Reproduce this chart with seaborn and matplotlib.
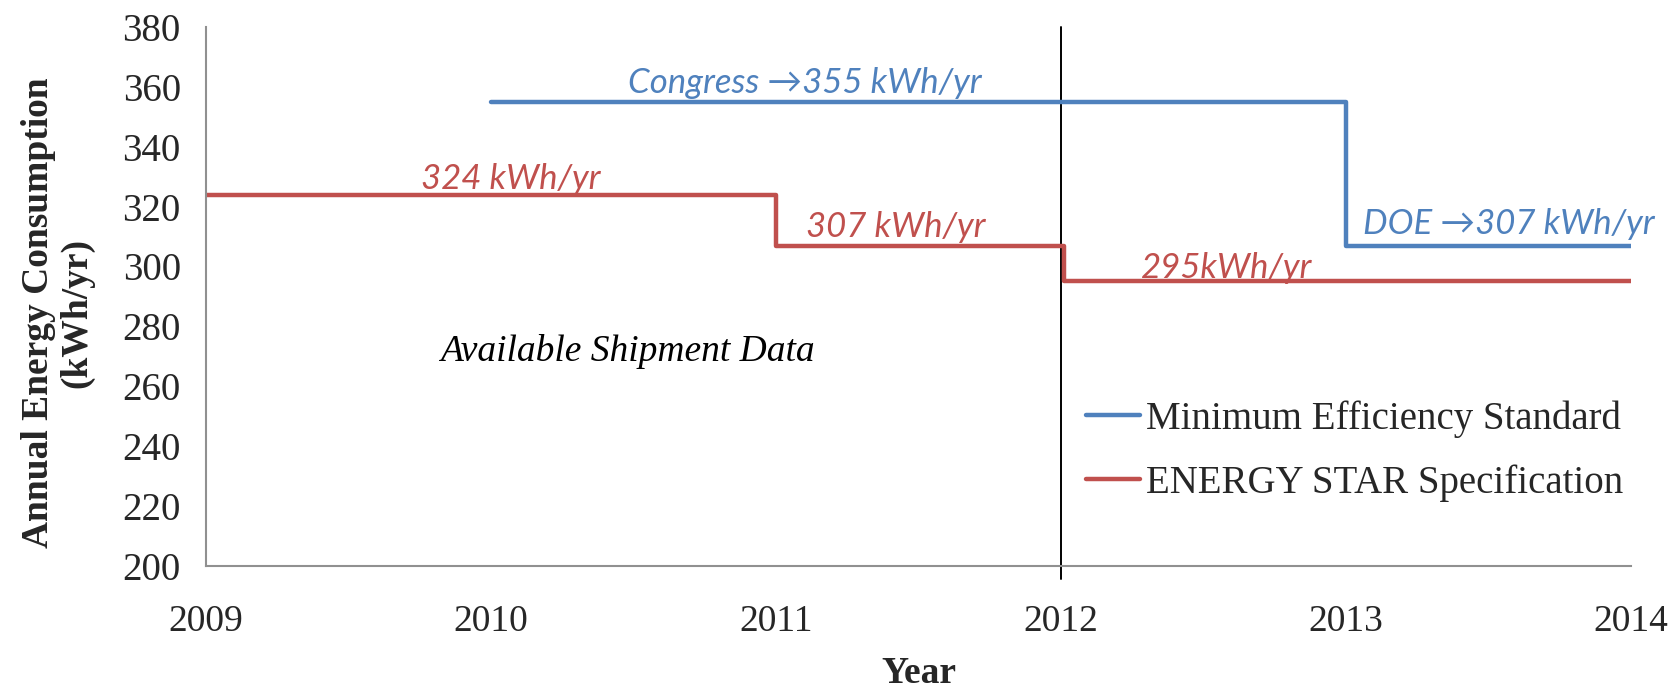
import matplotlib
matplotlib.use('Agg')
import matplotlib.pyplot as plt
import seaborn as sns
import pandas as pd

sns.set_style('white')

# step series (value holds from each x until the next one)
min_std_years = [2010, 2013, 2014]
min_std_kwh = [355, 307, 307]
estar_years = [2009, 2011, 2012.01, 2014]
estar_kwh = [324, 307, 295, 295]

series_names = ['Minimum Efficiency Standard', 'ENERGY STAR Specification']
series_colors = ['#4F81BD', '#C0504D']

df = pd.concat([
    pd.DataFrame({'year': min_std_years, 'kwh': min_std_kwh, 'series': series_names[0]}),
    pd.DataFrame({'year': estar_years, 'kwh': estar_kwh, 'series': series_names[1]}),
])

serif = ['Liberation Serif', 'DejaVu Serif']
sans_it = ['Lato', 'DejaVu Sans']

fig, ax = plt.subplots(figsize=(16.73, 6.91), dpi=100)
fig.subplots_adjust(left=0.123, right=0.975, top=0.961, bottom=0.181)

sns.lineplot(data=df, x='year', y='kwh', hue='series', hue_order=series_names,
             palette=series_colors, estimator=None, sort=False,
             drawstyle='steps-post', linewidth=3.2, ax=ax)

# divider for available shipment data
ax.axvline(2012, ymin=-0.025, ymax=1, color='black', linewidth=1.4, clip_on=False, zorder=1)

# annotations (baseline anchored)
ann = dict(fontsize=25, style='italic', family=sans_it, ha='center', va='baseline')
ax.text(2011.10, 357.8, 'Congress \u2192355 kWh/yr', color=series_colors[0], **ann)
ax.text(2013.57, 311.0, 'DOE \u2192307 kWh/yr', color=series_colors[0], **ann)
ax.text(2010.07, 325.8, '324 kWh/yr', color=series_colors[1], **ann)
ax.text(2011.42, 310.0, '307 kWh/yr', color=series_colors[1], **ann)
ax.text(2012.58, 296.2, '295kWh/yr', color=series_colors[1], **ann)
ax.text(2010.48, 271.5, 'Available Shipment Data', color='black',
        fontsize=27, style='italic', family=serif, ha='center', va='center')

# axes formatting
ax.set_xlim(2009, 2014)
ax.set_ylim(200, 380)
ax.set_xticks(range(2009, 2015))
ax.set_yticks(range(200, 381, 20))
ax.tick_params(axis='both', direction='out', length=8, width=1.2, color='#909090',
               labelsize=27, pad=10)
ax.tick_params(axis='y', labelsize=28)
ax.tick_params(axis='x', pad=20)
for lab in ax.get_xticklabels() + ax.get_yticklabels():
    lab.set_family(serif)

sns.despine(ax=ax)
for side in ['left', 'bottom']:
    ax.spines[side].set_color('#909090')
    ax.spines[side].set_linewidth(1.5)

ax.set_xlabel('Year', fontsize=27, fontweight='bold', family=serif, labelpad=12)
ax.set_ylabel('Annual Energy Consumption\n(kWh/yr)', fontsize=27, fontweight='bold',
              family=serif, linespacing=1.1, va='center')
ax.yaxis.set_label_coords(-0.104, 0.47)

# legend
handles, labels = ax.get_legend_handles_labels()
ax.legend(handles, labels, loc='center left', bbox_to_anchor=(0.6175, 0.2135), frameon=False,
          prop={'family': serif, 'size': 28}, handlelength=1.4, handletextpad=0.15,
          labelspacing=0.68, borderpad=0, borderaxespad=0)

plt.savefig('out.png', dpi=100)
